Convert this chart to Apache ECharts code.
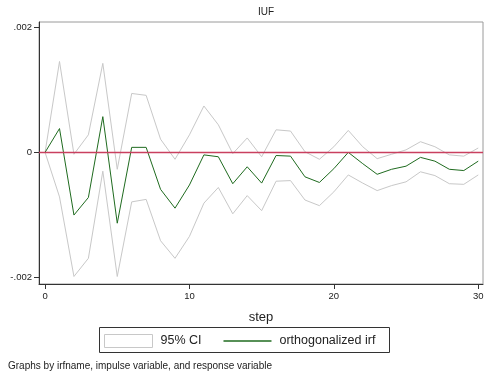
<!DOCTYPE html>
<html>
<head>
<meta charset="utf-8">
<script src="https://cdn.jsdelivr.net/npm/echarts@6/dist/echarts.min.js"></script>
<style>html,body{margin:0;padding:0;background:#fff}#c{width:496px;height:375px}</style>
</head>
<body>
<div id="c"></div>
<script>
const steps = [0,1,2,3,4,5,6,7,8,9,10,11,12,13,14,15,16,17,18,19,20,21,22,23,24,25,26,27,28,29,30];
const irf = [0,0.00038,-0.00100,-0.00072,0.00057,-0.00113,0.00008,0.00008,-0.00059,-0.00089,
  -0.00052,-0.00004,-0.00007,-0.00050,-0.00023,-0.00049,-0.00005,-0.00006,-0.00039,-0.00048,
  -0.00026,0,-0.00018,-0.00035,-0.00027,-0.00022,-0.00008,-0.00014,-0.00027,-0.00029,-0.00014];
const ciUpper = [0,0.00145,-0.00003,0.00028,0.00142,-0.00027,0.00094,0.00091,0.00021,-0.00011,
  0.00028,0.00074,0.00044,-0.00002,0.00023,-0.00007,0.00036,0.00034,0.00001,-0.00011,
  0.00009,0.00035,0.00009,-0.00010,-0.00003,0.00004,0.00017,0.00009,-0.00004,-0.00006,0.00007];
const ciLower = [0,-0.00071,-0.00198,-0.00169,-0.00030,-0.00198,-0.00079,-0.00075,-0.00141,-0.00169,
  -0.00134,-0.00081,-0.00056,-0.00098,-0.00069,-0.00093,-0.00046,-0.00045,-0.00076,-0.00085,
  -0.00063,-0.00036,-0.00049,-0.00061,-0.00053,-0.00047,-0.00031,-0.00037,-0.00050,-0.00051,-0.00036];
const xTicks = [0,10,20,30];
const yTicks = [-0.002,0,0.002];
const yTickLabels = ['-.002','0','.002'];
const panelTitle = 'IUF';
const xTitle = 'step';
const noteText = 'Graphs by irfname, impulse variable, and response variable';

const pair = (arr) => steps.map((s,i)=>[s,arr[i]]);
const font = '"Liberation Sans", Arial, Helvetica, sans-serif';
const chart = echarts.init(document.getElementById('c'), null, {renderer:'canvas'});
chart.setOption({
  animation:false,
  backgroundColor:'#fff',
  grid:{left:39,top:22,right:13,bottom:91,show:true,borderColor:'#9a9a9a',borderWidth:1,backgroundColor:'#fff'},
  title:[
    {text:panelTitle,left:261,top:2,textAlign:'center',textStyle:{fontFamily:font,fontSize:10,fontWeight:'normal',color:'#222'}},
    {text:noteText,left:3,top:356,textStyle:{fontFamily:font,fontSize:10,fontWeight:'normal',color:'#222'}}
  ],
  xAxis:{type:'value',min:-0.42,max:30.33,
    name:xTitle,nameLocation:'middle',nameGap:27,nameTextStyle:{fontFamily:font,fontSize:13,color:'#222'},
    axisLine:{show:true,onZero:false,lineStyle:{color:'#333',width:1}},
    axisTick:{show:true,length:5,customValues:xTicks,lineStyle:{color:'#333'}},
    axisLabel:{customValues:xTicks,fontFamily:font,fontSize:9.5,color:'#222',margin:7},
    splitLine:{show:false}},
  yAxis:{type:'value',min:-0.0021,max:0.00208,
    axisLine:{show:true,onZero:false,lineStyle:{color:'#333',width:1}},
    axisTick:{show:true,length:5,customValues:yTicks,lineStyle:{color:'#333'}},
    axisLabel:{customValues:yTicks,fontFamily:font,fontSize:9.5,color:'#222',margin:7,
      formatter:(v)=>{const i=yTicks.findIndex(t=>Math.abs(t-v)<1e-9);return i>=0?yTickLabels[i]:'';}},
    splitLine:{show:false}},
  legend:{
    left:104,top:334,padding:0,itemWidth:48,itemHeight:13,itemGap:22,
    textStyle:{fontFamily:font,fontSize:12.5,color:'#222',padding:[0,0,0,3]},
    data:[
      {name:'95% CI',icon:'rect',itemStyle:{color:'#fff',borderColor:'#c8c8c8',borderWidth:1}},
      {name:'orthogonalized irf',icon:'path://M0,0H48V1.3H0Z',itemStyle:{color:'#1f6b1f',borderWidth:0}}
    ]
  },
  graphic:[
    {type:'rect',shape:{x:99.5,y:327.5,width:290,height:25},style:{fill:'none',stroke:'#333',lineWidth:1},silent:true}
  ],
  series:[
    {name:'95% CI',type:'line',data:pair(ciUpper),showSymbol:false,lineStyle:{color:'#c8c8c8',width:1},itemStyle:{color:'#c8c8c8'},z:2},
    {name:'95% CI',type:'line',data:pair(ciLower),showSymbol:false,lineStyle:{color:'#c8c8c8',width:1},itemStyle:{color:'#c8c8c8'},z:2},
    {name:'orthogonalized irf',type:'line',data:pair(irf),showSymbol:false,lineStyle:{color:'#1f6b1f',width:1},itemStyle:{color:'#1f6b1f'},z:4,
      markLine:{silent:true,symbol:'none',label:{show:false},lineStyle:{color:'#c9405f',width:1.3,type:'solid'},data:[{yAxis:0}]}}
  ]
});
</script>
</body>
</html>
